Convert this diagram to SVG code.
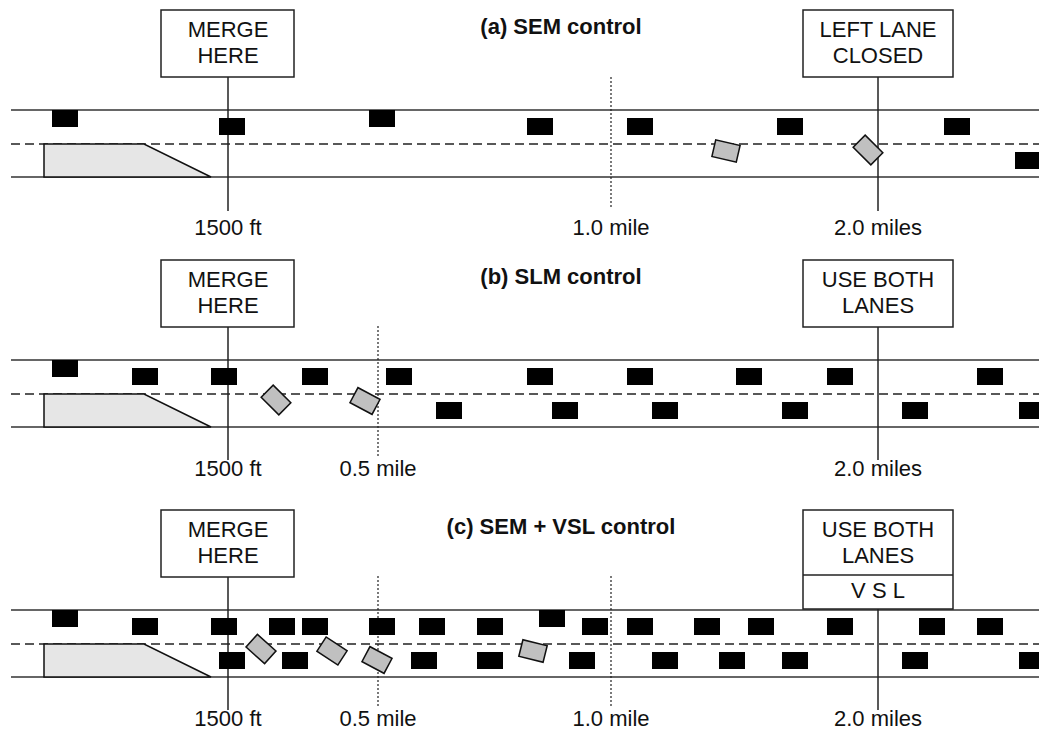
<svg xmlns="http://www.w3.org/2000/svg" width="1039" height="739" viewBox="0 0 1039 739">
<defs>
<style>
text{font-family:"Liberation Sans",Arial,sans-serif;font-size:22px;fill:#111;text-anchor:middle}
.title{font-weight:bold}
.road{stroke:#333;stroke-width:1.5;fill:none}
.lane{stroke:#222;stroke-width:1.3;stroke-dasharray:9 5;fill:none}
.pole{stroke:#222;stroke-width:1.5;fill:none}
.dot{stroke:#222;stroke-width:1.2;stroke-dasharray:2 2;fill:none}
.sign{fill:#fff;stroke:#222;stroke-width:1.5}
.ramp{fill:#e6e6e6;stroke:#111;stroke-width:1.5}
.car{fill:#000}
.gcar{fill:#c0c0c0;stroke:#111;stroke-width:1.5}
</style>
<rect id="c" class="car" width="26" height="17"/>
<rect id="g" class="gcar" x="-12.5" y="-8.5" width="25" height="17"/>
</defs>
<rect width="1039" height="739" fill="#fff"/>

<!-- Panel (a) -->
<g id="panel-a">
<text class="title" x="561" y="34">(a) SEM control</text>
<g id="road-a">
<line class="road" x1="11" y1="110" x2="1039" y2="110"/>
<line class="lane" x1="11" y1="144" x2="1039" y2="144"/>
<line class="road" x1="11" y1="177" x2="1039" y2="177"/>
<polygon class="ramp" points="44,144 144,144 211,177 44,177"/>
</g>
<g id="connectors-a">
<line class="pole" x1="228" y1="77" x2="228" y2="211"/>
<line class="pole" x1="878" y1="77" x2="878" y2="211"/>
<line class="dot" x1="611" y1="77" x2="611" y2="208"/>
</g>
<g id="sign-a1"><rect class="sign" x="161" y="10" width="133" height="67"/><text x="228" y="37">MERGE</text><text x="228" y="63">HERE</text></g>
<g id="sign-a2"><rect class="sign" x="803" y="10" width="150" height="67"/><text x="878" y="37">LEFT LANE</text><text x="878" y="63">CLOSED</text></g>
<g id="cars-a">
<use href="#c" x="52" y="110"/><use href="#c" x="219" y="118"/><use href="#c" x="369" y="110"/>
<use href="#c" x="527" y="118"/><use href="#c" x="627" y="118"/><use href="#c" x="777" y="118"/>
<use href="#c" x="944" y="118"/><use href="#c" x="1015" y="152"/>
<use href="#g" transform="translate(726,151) rotate(13)"/>
<use href="#g" transform="translate(868,150) rotate(45)"/>
</g>
<g id="labels-a">
<text x="228" y="235">1500 ft</text><text x="611" y="235">1.0 mile</text><text x="878" y="235">2.0 miles</text>
</g>
</g>

<!-- Panel (b) -->
<g id="panel-b">
<text class="title" x="561" y="284">(b) SLM control</text>
<g id="road-b">
<line class="road" x1="11" y1="360" x2="1039" y2="360"/>
<line class="lane" x1="11" y1="394" x2="1039" y2="394"/>
<line class="road" x1="11" y1="427" x2="1039" y2="427"/>
<polygon class="ramp" points="44,394 144,394 211,427 44,427"/>
</g>
<g id="connectors-b">
<line class="pole" x1="228" y1="327" x2="228" y2="460"/>
<line class="pole" x1="878" y1="327" x2="878" y2="460"/>
<line class="dot" x1="378" y1="326" x2="378" y2="458"/>
</g>
<g id="sign-b1"><rect class="sign" x="161" y="260" width="133" height="67"/><text x="228" y="287">MERGE</text><text x="228" y="313">HERE</text></g>
<g id="sign-b2"><rect class="sign" x="803" y="260" width="150" height="67"/><text x="878" y="287">USE BOTH</text><text x="878" y="313">LANES</text></g>
<g id="cars-b">
<use href="#c" x="52" y="360"/>
<use href="#c" x="132" y="368"/><use href="#c" x="211" y="368"/><use href="#c" x="302" y="368"/>
<use href="#c" x="386" y="368"/><use href="#c" x="527" y="368"/><use href="#c" x="627" y="368"/>
<use href="#c" x="736" y="368"/><use href="#c" x="827" y="368"/><use href="#c" x="977" y="368"/>
<use href="#c" x="436" y="402"/><use href="#c" x="552" y="402"/><use href="#c" x="652" y="402"/>
<use href="#c" x="782" y="402"/><use href="#c" x="902" y="402"/><use href="#c" x="1019" y="402"/>
<use href="#g" transform="translate(276,400) rotate(45)"/>
<use href="#g" transform="translate(365,401) rotate(28)"/>
</g>
<g id="labels-b">
<text x="228" y="476">1500 ft</text><text x="378" y="476">0.5 mile</text><text x="878" y="476">2.0 miles</text>
</g>
</g>

<!-- Panel (c) -->
<g id="panel-c">
<text class="title" x="561" y="534">(c) SEM + VSL control</text>
<g id="road-c">
<line class="road" x1="11" y1="610" x2="1039" y2="610"/>
<line class="lane" x1="11" y1="644" x2="1039" y2="644"/>
<line class="road" x1="11" y1="677" x2="1039" y2="677"/>
<polygon class="ramp" points="44,644 144,644 211,677 44,677"/>
</g>
<g id="connectors-c">
<line class="pole" x1="228" y1="577" x2="228" y2="710"/>
<line class="pole" x1="878" y1="609" x2="878" y2="710"/>
<line class="dot" x1="378" y1="576" x2="378" y2="708"/>
<line class="dot" x1="611" y1="576" x2="611" y2="708"/>
</g>
<g id="sign-c1"><rect class="sign" x="161" y="510" width="133" height="67"/><text x="228" y="537">MERGE</text><text x="228" y="563">HERE</text></g>
<g id="sign-c2"><rect class="sign" x="803" y="510" width="150" height="99"/><line class="pole" x1="803" y1="575" x2="953" y2="575"/><text x="878" y="537">USE BOTH</text><text x="878" y="563">LANES</text><text x="878" y="598">V S L</text></g>
<g id="cars-c">
<use href="#c" x="52" y="610"/><use href="#c" x="539" y="610"/>
<use href="#c" x="132" y="618"/><use href="#c" x="211" y="618"/><use href="#c" x="269" y="618"/>
<use href="#c" x="302" y="618"/><use href="#c" x="369" y="618"/><use href="#c" x="419" y="618"/>
<use href="#c" x="477" y="618"/><use href="#c" x="582" y="618"/><use href="#c" x="627" y="618"/>
<use href="#c" x="694" y="618"/><use href="#c" x="748" y="618"/><use href="#c" x="827" y="618"/>
<use href="#c" x="919" y="618"/><use href="#c" x="977" y="618"/>
<use href="#c" x="219" y="652"/><use href="#c" x="282" y="652"/><use href="#c" x="411" y="652"/>
<use href="#c" x="477" y="652"/><use href="#c" x="569" y="652"/><use href="#c" x="652" y="652"/>
<use href="#c" x="719" y="652"/><use href="#c" x="782" y="652"/><use href="#c" x="902" y="652"/>
<use href="#c" x="1019" y="652"/>
<use href="#g" transform="translate(261,649) rotate(42)"/>
<use href="#g" transform="translate(332,651) rotate(33)"/>
<use href="#g" transform="translate(377,660) rotate(28)"/>
<use href="#g" transform="translate(533,651) rotate(14)"/>
</g>
<g id="labels-c">
<text x="228" y="726">1500 ft</text><text x="378" y="726">0.5 mile</text><text x="611" y="726">1.0 mile</text><text x="878" y="726">2.0 miles</text>
</g>
</g>
</svg>
